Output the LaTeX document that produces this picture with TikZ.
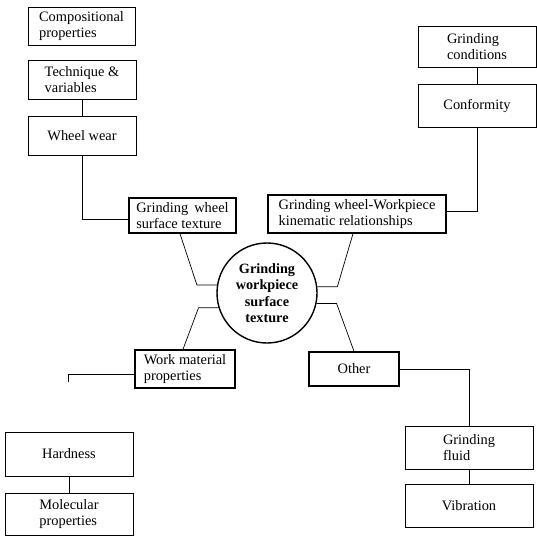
\documentclass[tikz,border=0pt]{standalone}
\usepackage{fontspec}
\setmainfont{Liberation Serif}

\tikzset{
	blk/.style={shape=rectangle, draw, line width=0.8pt, inner sep=0pt, align=left, font=\fontsize{14.4}{16.5}\selectfont},
	mainblk/.style={blk, line width=1.4pt},
	hub/.style={shape=circle, draw, line width=1.4pt, inner sep=0pt, minimum size=100pt, align=center, font=\fontsize{14.2}{16.5}\selectfont\bfseries},
	link/.style={line width=0.7pt},
}

\begin{document}
\begin{tikzpicture}[x=1pt, y=-1pt]
			\useasboundingbox (0,0) rectangle (537,536);
			\node[blk, minimum width=107pt, minimum height=38pt](comp) at (81.5, 26){Compositional\\properties};
			\node[blk, minimum width=108pt, minimum height=39pt](tech) at (82, 79.5){Technique \&\\variables};
			\node[blk, minimum width=108pt, minimum height=39pt](wear) at (82, 135.5){Wheel wear};
			\node[mainblk, minimum width=107pt, minimum height=35pt](gwst) at (182.5, 215.5){Grinding\, wheel\\surface texture};
			\node[mainblk, minimum width=178pt, minimum height=38pt](kin) at (357, 214){Grinding wheel-Workpiece\\kinematic relationships};
			\node[blk, minimum width=118pt, minimum height=41pt](gcond) at (477, 46.5){Grinding\\conditions};
			\node[blk, minimum width=118pt, minimum height=43pt](conf) at (477, 105.5){Conformity};
			\node[hub](tex) at (267, 293){Grinding\\workpiece\\surface\\texture};
			\node[mainblk, minimum width=100pt, minimum height=38pt](wmp) at (185, 369){Work material\\properties};
			\node[mainblk, minimum width=90pt, minimum height=34pt](other) at (354, 369){Other};
			\node[blk, minimum width=128pt, minimum height=44pt](hard) at (69, 454){Hardness};
			\node[blk, minimum width=128pt, minimum height=42pt](mol) at (69, 514){Molecular\\properties};
			\node[blk, minimum width=128pt, minimum height=43pt](fluid) at (469, 447.5){Grinding\\fluid};
			\node[blk, minimum width=128pt, minimum height=43pt](vib) at (469, 505.5){Vibration};
			\coordinate (wstub) at (68, 382);
			\draw[link] (tech) -- (wear);
			\draw[link] (wear.south) |- ([yshift=-3.5pt]gwst.west);
			\draw[link] (gcond) -- (conf);
			\draw[link] (conf.south) |- ([yshift=3pt]kin.east);
			\draw[link] ([xshift=-2.5pt]gwst.south) -- ([xshift=-20pt]tex.171) -- (tex.171);
			\draw[link] ([xshift=-2pt]wmp.north) -- ([xshift=-20pt]tex.197) -- (tex.197);
			\draw[link] ([xshift=-4pt]kin.south) -- ([xshift=20pt]tex.7) -- (tex.7);
			\draw[link] (other.north) -- ([xshift=20pt]tex.-12) -- (tex.-12);
			\draw[link] ([yshift=-5pt]wmp.west) -| (wstub);
			\draw[link] (hard) -- (mol);
			\draw[link] (other.east) -| (fluid.north);
			\draw[link] (fluid) -- (vib);
		\end{tikzpicture}
\end{document}
